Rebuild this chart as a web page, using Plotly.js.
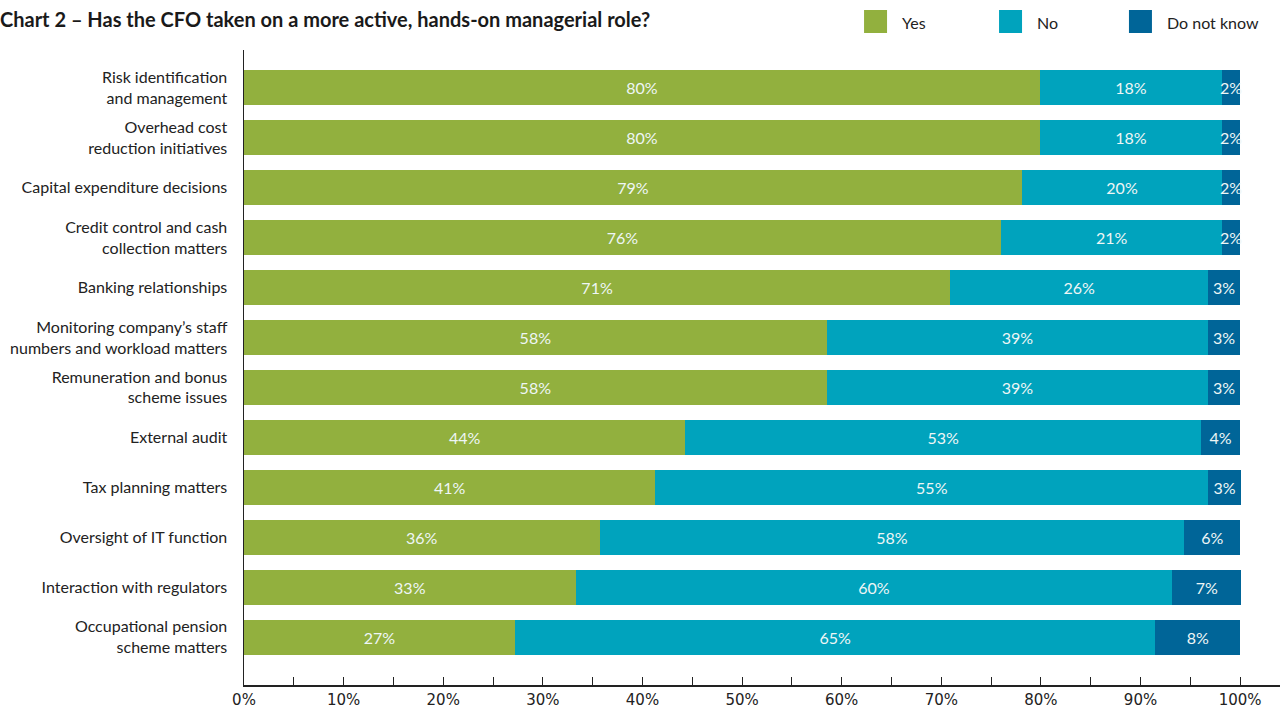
<!DOCTYPE html>
<html>
<head>
<meta charset="utf-8">
<script src="https://cdn.plot.ly/plotly-3.0.1.min.js"></script>
<style>
html,body{margin:0;padding:0;background:#fff;}
#chart{width:1280px;height:711px;}
</style>
</head>
<body>
<div id="chart"></div>
<script>
const categories = [
  "Risk identification<br>and management",
  "Overhead cost<br>reduction initiatives",
  "Capital expenditure decisions",
  "Credit control and cash<br>collection matters",
  "Banking relationships",
  "Monitoring company’s staff<br>numbers and workload matters",
  "Remuneration and bonus<br>scheme issues",
  "External audit",
  "Tax planning matters",
  "Oversight of IT function",
  "Interaction with regulators",
  "Occupational pension<br>scheme matters"
];
const seriesNames = ["Yes", "No", "Do not know"];
const seriesColors = ["#92b03e", "#00a3bd", "#006598"];
const yesValues = [79.9, 79.9, 78.1, 76.0, 70.9, 58.5, 58.5, 44.3, 41.3, 35.7, 33.3, 27.2];
const noValues  = [18.3, 18.3, 20.1, 22.2, 25.9, 38.3, 38.3, 51.8, 55.5, 58.7, 59.9, 64.3];
const dnkValues = [1.8, 1.8, 1.8, 1.8, 3.2, 3.2, 3.2, 3.9, 3.3, 5.6, 6.9, 8.5];
const yesLabels = [80, 80, 79, 76, 71, 58, 58, 44, 41, 36, 33, 27];
const noLabels  = [18, 18, 20, 21, 26, 39, 39, 53, 55, 58, 60, 65];
const dnkLabels = [2, 2, 2, 2, 3, 3, 3, 4, 3, 6, 7, 8];
const xTickVals = [0, 10, 20, 30, 40, 50, 60, 70, 80, 90, 100];
const xTickText = xTickVals.map(v => v + "%");

const valueSets = [yesValues, noValues, dnkValues];
const labelSets = [yesLabels, noLabels, dnkLabels];

const traces = seriesNames.map((name, i) => ({
  type: "bar",
  orientation: "h",
  name: name,
  y: categories,
  x: valueSets[i],
  text: labelSets[i].map(v => v + "%"),
  textposition: "inside",
  insidetextanchor: "middle",
  textangle: 0,
  cliponaxis: false,
  textfont: {family: "Lato, 'Open Sans', sans-serif", size: 16, color: "#eef6f6"},
  marker: {color: seriesColors[i], line: {width: 0}},
  hoverinfo: "skip",
  showlegend: false
}));

// legend drawn as shapes + text (paper coords; plot area spans x 244..1280, y 50..685)
const legendX = [0.5985, 0.7288, 0.8542];
const shapes = [];
const annotations = [];
seriesNames.forEach((name, i) => {
  shapes.push({
    type: "rect", xref: "paper", yref: "paper",
    x0: legendX[i], x1: legendX[i] + 0.0222,
    y0: 1.0268, y1: 1.063,
    fillcolor: seriesColors[i], line: {width: 0}
  });
  annotations.push({
    xref: "paper", yref: "paper",
    x: legendX[i] + 0.0347, y: 1.044,
    xanchor: "left", yanchor: "middle",
    text: name, showarrow: false,
    font: {family: "Lato, 'Open Sans', sans-serif", size: 16, color: "#222"}
  });
});

const layout = {
  width: 1280, height: 711,
  paper_bgcolor: "#ffffff", plot_bgcolor: "#ffffff",
  margin: {l: 244, r: 0, t: 50, b: 26, pad: 0},
  barmode: "stack",
  bargap: 0.3,
  showlegend: false,
  uniformtext: {mode: "show", minsize: 16},
  title: {
    text: "<b>Chart 2 – Has the CFO taken on a more active, hands-on managerial role?</b>",
    x: 0, xref: "container", xanchor: "left",
    y: 0.972, yref: "container", yanchor: "middle",
    font: {family: "Lato, sans-serif", size: 20, color: "#1a1a1a"}
  },
  xaxis: {
    range: [0, 104.0],
    tickvals: xTickVals,
    ticktext: xTickText,
    ticks: "inside", ticklen: 8, tickwidth: 1, tickcolor: "#222",
    minor: {tickvals: [5, 15, 25, 35, 45, 55, 65, 75, 85, 95], ticks: "inside", ticklen: 8, tickwidth: 1, tickcolor: "#222"},
    showline: true, linecolor: "#222", linewidth: 1.5,
    showgrid: false, zeroline: false,
    tickfont: {family: "'DejaVu Sans', sans-serif", size: 15, color: "#222"},
    fixedrange: true
  },
  yaxis: {
    type: "category",
    categoryorder: "array",
    categoryarray: categories,
    range: [11.96, -0.76],
    autorange: false,
    showline: true, linecolor: "#222", linewidth: 1.5,
    ticks: "", showgrid: false, zeroline: false,
    ticklabelstandoff: 12,
    tickfont: {family: "Lato, 'Open Sans', sans-serif", size: 16, color: "#222"},
    fixedrange: true
  },
  shapes: shapes,
  annotations: annotations
};

Plotly.newPlot("chart", traces, layout, {displayModeBar: false, staticPlot: true});
</script>
</body>
</html>
